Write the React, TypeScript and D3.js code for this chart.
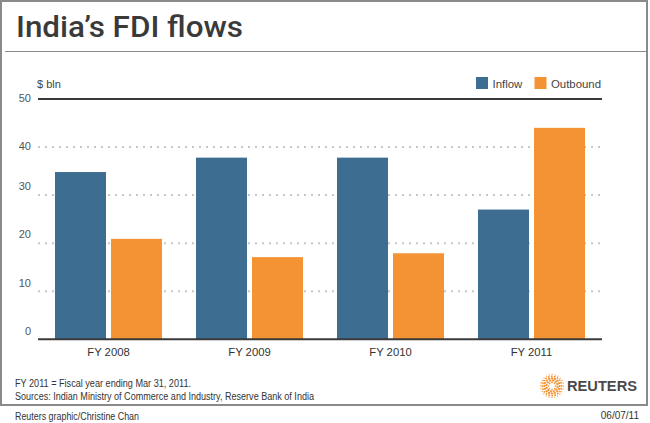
import React from 'react';
import * as d3 from 'd3';

const categories = ['FY 2008', 'FY 2009', 'FY 2010', 'FY 2011'];
const inflow = [34.8, 37.8, 37.8, 27.0];
const outbound = [20.9, 17.1, 17.9, 44.0];
const seriesNames = ['Inflow', 'Outbound'];
const seriesColors = ['#3d6e91', '#f39334'];
const yTicks = [0, 10, 20, 30, 40, 50];

const FONT = "Arial, 'Liberation Sans', Helvetica, sans-serif";

export default function App() {
  const W = 650, H = 423;
  const x = d3.scaleBand<string>().domain(categories).range([38, 602]).paddingInner(0.241).paddingOuter(0.1205);
  const xi = d3.scaleBand<string>().domain(seriesNames).range([0, x.bandwidth()]).paddingInner(0.0893).paddingOuter(0);
  const y = d3.scaleLinear().domain([0, 50]).range([339.3, 99]);
  const color = d3.scaleOrdinal<string, string>().domain(seriesNames).range(seriesColors);
  const seriesData: Record<string, number[]> = { Inflow: inflow, Outbound: outbound };

  // Reuters logo dots
  const rings = [
    { r: 3.6, n: 8, d: 0.85 },
    { r: 5.6, n: 12, d: 1.15 },
    { r: 7.6, n: 16, d: 1.15 },
    { r: 9.6, n: 20, d: 0.95 },
    { r: 11.4, n: 24, d: 0.65 },
  ];
  const logoDots: { cx: number; cy: number; rr: number }[] = [];
  rings.forEach((ring, i) => {
    for (let k = 0; k < ring.n; k++) {
      const a = (k / ring.n) * Math.PI * 2 + i * 0.2;
      logoDots.push({ cx: 552 + ring.r * Math.cos(a), cy: 386 + ring.r * Math.sin(a), rr: ring.d });
    }
  });

  return (
    <svg width={W} height={H} style={{ position: 'absolute', left: 0, top: 0, background: '#fff' }} fontFamily={FONT}>
      <rect x={0} y={0} width={W} height={H} fill="#fff" />
      <rect x={1} y={1} width={646} height={404} fill="none" stroke="#8a8a8a" strokeWidth={2} />
      <text x={16} y={37} fontFamily="Roboto, 'Noto Sans', sans-serif" fontWeight={500} fontSize={30} fill="#3a3a3a" textLength={227} lengthAdjust="spacingAndGlyphs">India’s FDI flows</text>
      <line x1={5} x2={647} y1={51.5} y2={51.5} stroke="#8a8a8a" strokeWidth={1} />

      <text x={37} y={88} fontSize={11} fill="#444">$ bln</text>

      {/* legend */}
      {seriesNames.map((s, i) => {
        const lx = [476, 534.5][i];
        return (
          <g key={s}>
            <rect x={lx} y={77} width={12} height={12} fill={color(s)} />
            <text x={lx + 16.5} y={83.5} dominantBaseline="central" fontSize={11.4} fill="#444">{s}</text>
          </g>
        );
      })}

      {/* gridlines */}
      {yTicks.filter(t => t > 0 && t < 50).map(t => (
        <line key={t} x1={38} x2={602} y1={y(t)} y2={y(t)} stroke="#c8c8c8" strokeWidth={2} strokeDasharray="2 5" />
      ))}
      {/* tick labels */}
      {yTicks.map(t => (
        <text key={'l' + t} x={31} y={y(t) + (t >= 40 ? -1.5 : -8.7)} textAnchor="end" dominantBaseline="central" fontSize={11} fill="#555">{t}</text>
      ))}

      {/* bars */}
      {categories.map((c, ci) => (
        <g key={c} transform={`translate(${x(c)},0)`}>
          {seriesNames.map(s => (
            <rect key={s} x={xi(s)} y={y(seriesData[s][ci])} width={xi.bandwidth()} height={y(0) - y(seriesData[s][ci])} fill={color(s)} />
          ))}
        </g>
      ))}

      <line x1={38} x2={602} y1={y(50)} y2={y(50)} stroke="#3a3a3a" strokeWidth={2} />
      <line x1={38} x2={602} y1={y(0)} y2={y(0)} stroke="#3a3a3a" strokeWidth={2} />

      {categories.map(c => (
        <text key={'x' + c} x={(x(c) as number) + x.bandwidth() / 2} y={351.5} textAnchor="middle" dominantBaseline="central" fontSize={11.3} fill="#333">{c}</text>
      ))}

      <text x={15} y={383} dominantBaseline="central" fontSize={10} fill="#333" textLength={176} lengthAdjust="spacingAndGlyphs">FY 2011 = Fiscal year ending Mar 31, 2011.</text>
      <text x={15} y={396} dominantBaseline="central" fontSize={10} fill="#333" textLength={299} lengthAdjust="spacingAndGlyphs">Sources: Indian Ministry of Commerce and Industry, Reserve Bank of India</text>
      <text x={15} y={416} dominantBaseline="central" fontSize={10} fill="#333" textLength={124} lengthAdjust="spacingAndGlyphs">Reuters graphic/Christine Chan</text>
      <text x={639} y={415} textAnchor="end" dominantBaseline="central" fontSize={10} fill="#333">06/07/11</text>

      {/* Reuters logo */}
      <g fill="#f39334">
        {logoDots.map((d, i) => <circle key={i} cx={d.cx} cy={d.cy} r={d.rr} />)}
      </g>
      <text x={567} y={391} fontSize={14} fontWeight="bold" fill="#4a4a4a" textLength={70} lengthAdjust="spacingAndGlyphs">REUTERS</text>
    </svg>
  );
}
